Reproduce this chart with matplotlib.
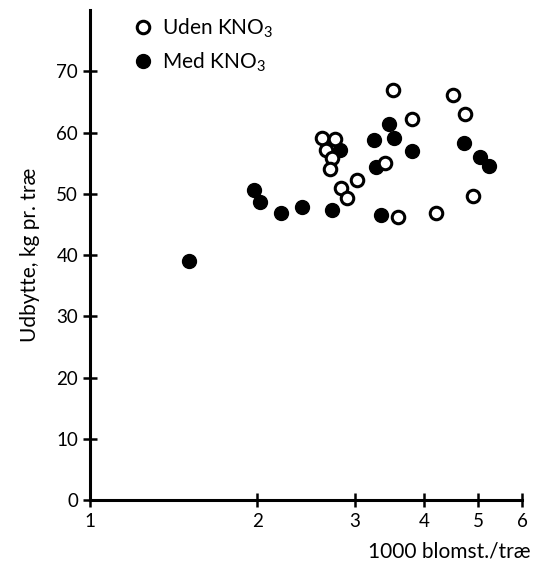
import matplotlib
matplotlib.use("Agg")
import matplotlib.pyplot as plt

plt.rcParams['font.family'] = ['Lato', 'DejaVu Sans']
plt.rcParams['mathtext.fontset'] = 'custom'
plt.rcParams['mathtext.rm'] = 'Lato'

# Uden KNO3 (open circles)
uden_x = [3.52, 4.51, 4.73, 3.80, 2.62, 2.76, 2.66, 2.73, 2.70, 3.40,
          3.02, 2.83, 2.90, 3.58, 4.20, 4.90]
uden_y = [67.0, 66.1, 63.0, 62.3, 59.2, 58.9, 57.1, 55.8, 54.0, 55.0,
          52.3, 50.9, 49.3, 46.2, 46.8, 49.6]

# Med KNO3 (filled circles)
med_x = [3.46, 3.53, 3.25, 2.82, 3.80, 4.71, 5.04, 5.24, 3.28, 1.97,
         2.02, 2.21, 2.41, 2.73, 3.34, 1.51]
med_y = [61.4, 59.2, 58.8, 57.2, 57.0, 58.3, 56.1, 54.6, 54.4, 50.7,
         48.7, 46.9, 47.8, 47.3, 46.5, 39.1]

x_ticks = [1, 2, 3, 4, 5, 6]
y_ticks = [0, 10, 20, 30, 40, 50, 60, 70]

fig = plt.figure(figsize=(5.41, 5.65), dpi=100)
ax = fig.add_axes([0.1664, 0.115, 0.7986, 0.867])

ax.plot(med_x, med_y, 'o', color='black', markersize=10, linestyle='none',
        label='Med KNO$_3$', clip_on=False)
ax.plot(uden_x, uden_y, 'o', markerfacecolor='white', markeredgecolor='black',
        markeredgewidth=2.2, markersize=9, linestyle='none',
        label='Uden KNO$_3$', clip_on=False)

ax.set_xscale('log')
ax.set_xlim(1, 6)
ax.set_ylim(0, 80)
ax.set_xticks(x_ticks)
ax.set_xticklabels([str(t) for t in x_ticks])
ax.minorticks_off()
ax.set_yticks(y_ticks)

for s in ['top', 'right']:
    ax.spines[s].set_visible(False)
for s in ['left', 'bottom']:
    ax.spines[s].set_linewidth(2.2)
ax.tick_params(direction='inout', length=10, width=1.8, labelsize=13.5)
ax.tick_params(axis='x', pad=4)

ax.set_ylabel('Udbytte, kg pr. træ', fontsize=15, labelpad=12)
ax.set_xlabel('1000 blomst./træ', fontsize=15, ha='right')
ax.xaxis.set_label_coords(1.02, -0.085)

h, l = ax.get_legend_handles_labels()
ax.legend(h[::-1], l[::-1], loc='upper left', bbox_to_anchor=(0.05, 1.025),
          frameon=False, fontsize=15, handletextpad=0.3, handlelength=1.2,
          labelspacing=0.5)

fig.savefig('out.png', dpi=100)
